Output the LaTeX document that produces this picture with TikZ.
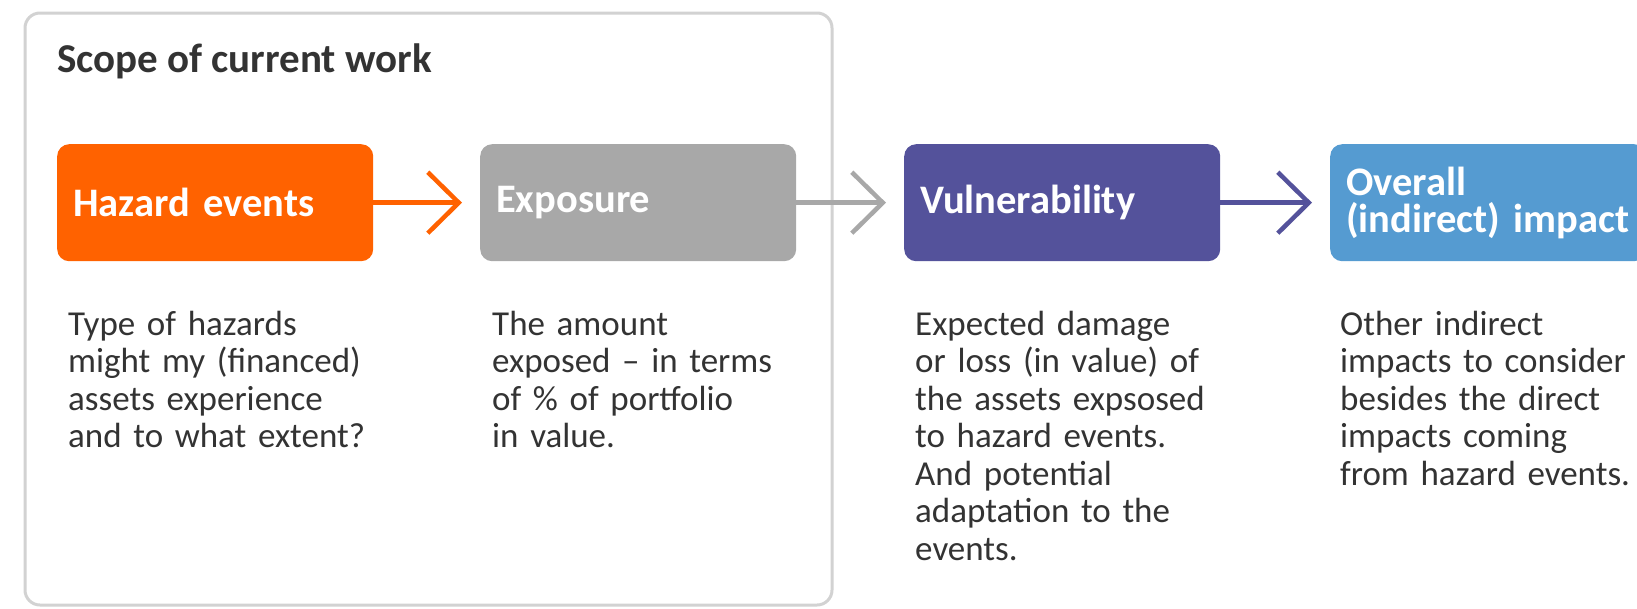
\documentclass[tikz,border=0pt]{standalone}
\usepackage{fontspec}
\setmainfont{Carlito}
\usetikzlibrary{arrows.meta}
\definecolor{ingorange}{HTML}{FF6200}
\definecolor{inggray}{HTML}{A8A8A8}
\definecolor{ingpurple}{HTML}{54529B}
\definecolor{ingblue}{HTML}{559BD1}
\definecolor{txtgray}{HTML}{333333}
\definecolor{framegray}{HTML}{D2D2D2}
\begin{document}
\begin{tikzpicture}[x=1pt,y=-1pt,
  stagebox/.style={rectangle, rounded corners=12pt, minimum height=117pt,
    text width=284pt, inner xsep=16pt, inner ysep=0pt, align=left,
    anchor=north west, text=white,
    font=\bfseries\fontsize{40.5}{37}\selectfont},
  bodytext/.style={anchor=north west, inner sep=0pt, text width=320pt,
    align=left, text=txtgray, font=\fontsize{35}{37.5}\selectfont},
  flow/.style={line width=4.5pt, shorten >=18pt,
    -{Straight Barb[length=31pt, width=61pt]}}
]
\clip (0,0) rectangle (1637,608);
\useasboundingbox (0,0) rectangle (1637,608);
\fill[white] (0,0) rectangle (1637,608);
\draw[framegray, line width=3pt, rounded corners=15pt] (25,13) rectangle (832,605);
\node[anchor=base west, inner sep=0pt, text=txtgray,
  font=\bfseries\fontsize{41}{41}\selectfont] (title) at (57,72) {Scope of current work};

\node[stagebox, fill=ingorange] (haz) at (57,144) {Hazard events};
\node[stagebox, fill=inggray] (expo) at (480,144) {Exposure};
\node[stagebox, fill=ingpurple] (vuln) at (904,144) {Vulnerability};
\node[stagebox, fill=ingblue] (over) at (1330,144) {Overall\\(indirect) impact};

\draw[flow, ingorange] (haz.east) -- (expo.west);
\draw[flow, inggray] (expo.east) -- (vuln.west);
\draw[flow, ingpurple] (vuln.east) -- (over.west);

\node[bodytext] (t1) at (68,308.75) {\strut Type of hazards\\might my (financed)\\assets experience\\and to what extent?};
\node[bodytext] (t2) at (492,308.75) {\strut The amount\\exposed -- in terms\\of \% of portfolio\\in value.};
\node[bodytext] (t3) at (915,308.75) {\strut Expected damage\\or loss (in value) of\\the assets expsosed\\to hazard events.\\And potential\\adaptation to the\\events.};
\node[bodytext] (t4) at (1340,308.75) {\strut Other indirect\\impacts to consider\\besides the direct\\impacts coming\\from hazard events.};
\end{tikzpicture}
\end{document}
